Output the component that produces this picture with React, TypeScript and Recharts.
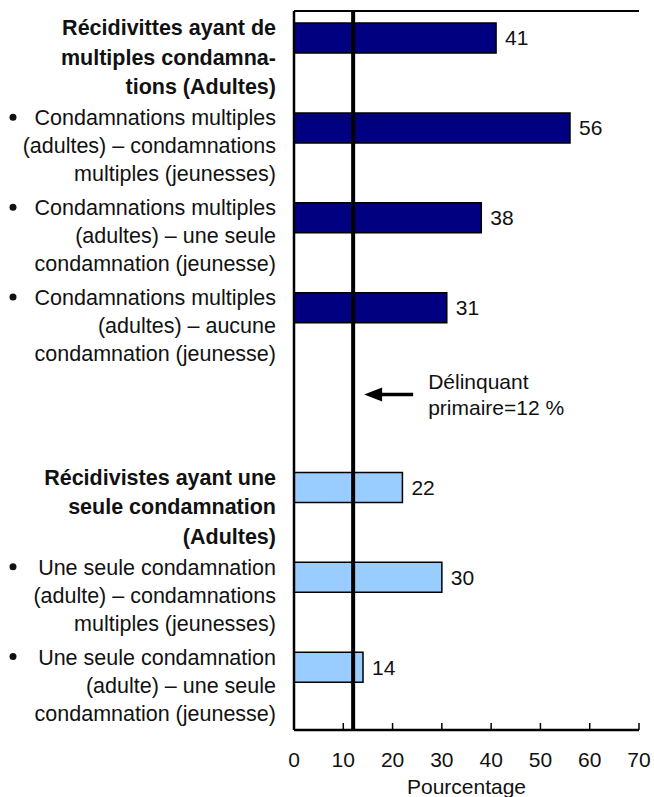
import {
  Bar,
  BarChart,
  Cell,
  LabelList,
  ReferenceDot,
  ReferenceLine,
  XAxis,
  YAxis,
} from "recharts"

const categories = ["multi", "multiMulti", "multiOne", "multiNone", "gap", "single", "singleMulti", "singleOne"]
const values = [41, 56, 38, 31, null, 22, 30, 14]
const groups = ["multi", "multi", "multi", "multi", "none", "single", "single", "single"]
const headers = [true, false, false, false, false, true, false, false]
const labelLines = [
  ["Récidivittes ayant de", "multiples condamna-", "tions (Adultes)"],
  ["Condamnations multiples", "(adultes) – condamnations", "multiples (jeunesses)"],
  ["Condamnations multiples", "(adultes) – une seule", "condamnation (jeunesse)"],
  ["Condamnations multiples", "(adultes) – aucune", "condamnation (jeunesse)"],
  [],
  ["Récidivistes ayant une", "seule condamnation", "(Adultes)"],
  ["Une seule condamnation", "(adulte) – condamnations", "multiples (jeunesses)"],
  ["Une seule condamnation", "(adulte) – une seule", "condamnation (jeunesse)"],
]
const xTicks = [0, 10, 20, 30, 40, 50, 60, 70]
const firstOffender = 12
const noteLines = ["Délinquant", "primaire=12 %"]
const xTitle = "Pourcentage"

const data = categories.map((name, i) => ({ name, value: values[i], group: groups[i] }))

const FONT = "'Liberation Sans', Arial, sans-serif"
const INK = "#111"
const colors: Record<string, string> = { multi: "#000080", single: "#99CCFF", none: "none" }

function CategoryTick({ x, y, payload }: any) {
  const i = categories.indexOf(payload.value)
  const lines = labelLines[i] || []
  if (!lines.length) return null
  const bold = headers[i]
  const lh = bold ? 29.5 : 28
  const base = y - 2.5
  const right = x - 18
  return (
    <g>
      {!bold && <circle cx={x - 281} cy={base - 8} r={3.5} fill={INK} />}
      <text textAnchor="end" fontSize={21.5} fontFamily={FONT} fontWeight={bold ? 700 : 400} fill={INK}>
        {lines.map((l, k) => (
          <tspan key={k} x={right} y={base + k * lh}>
            {l}
          </tspan>
        ))}
      </text>
    </g>
  )
}

function PercentTick({ x, y, payload }: any) {
  return (
    <g>
      <line x1={x} x2={x} y1={y} y2={y - 7} stroke="#000" strokeWidth={1.5} />
      <text x={x} y={y + 36.5} textAnchor="middle" fontSize={21} fontFamily={FONT} fill={INK}>
        {payload.value}
      </text>
    </g>
  )
}

function NoteArrow({ cx, cy }: any) {
  const y = cy - 3
  return (
    <g>
      <line x1={cx + 24} x2={cx + 60} y1={y} y2={y} stroke="#000" strokeWidth={3.5} />
      <polygon points={`${cx + 11},${y} ${cx + 29},${y - 7} ${cx + 29},${y + 7}`} fill="#000" />
      <text fontSize={21} fontFamily={FONT} fill={INK}>
        <tspan x={cx + 75} y={cy - 8.5}>{noteLines[0]}</tspan>
        <tspan x={cx + 75} y={cy + 17.5}>{noteLines[1]}</tspan>
      </text>
    </g>
  )
}

export default function App() {
  return (
    <div style={{ width: 654, height: 797, background: "#fff" }}>
      <style>{"body{margin:0}"}</style>
      <BarChart
        width={654}
        height={797}
        data={data}
        layout="vertical"
        margin={{ top: 10, right: 15, bottom: 0, left: 0 }}
      >
        <XAxis
          type="number"
          domain={[0, 70]}
          ticks={xTicks}
          tickSize={0}
          tickMargin={0}
          tickLine={false}
          tick={<PercentTick />}
          height={67}
          axisLine={{ stroke: "#000", strokeWidth: 2.5 }}
          label={{ value: xTitle, position: "insideBottom", offset: 3, fill: INK, fontSize: 21, fontFamily: FONT }}
        />
        <XAxis
          xAxisId="top"
          orientation="top"
          type="number"
          domain={[0, 70]}
          height={1}
          tick={false}
          tickLine={false}
          axisLine={{ stroke: "#000", strokeWidth: 2 }}
        />
        <YAxis
          type="category"
          dataKey="name"
          width={294}
          tickSize={0}
          tickMargin={0}
          tickLine={false}
          interval={0}
          tick={<CategoryTick />}
          padding={{ top: -18, bottom: 18 }}
          axisLine={{ stroke: "#000", strokeWidth: 2.5 }}
        />
        <YAxis
          yAxisId="right"
          orientation="right"
          type="category"
          dataKey="name"
          width={0}
          tick={false}
          tickLine={false}
          axisLine={{ stroke: "#000", strokeWidth: 2 }}
        />
        <Bar dataKey="value" barSize={30} stroke="#000" strokeWidth={1.5} isAnimationActive={false}>
          {data.map((d) => (
            <Cell key={d.name} fill={colors[d.group]} />
          ))}
          <LabelList dataKey="value" position="right" offset={9} fill={INK} fontSize={21} fontFamily={FONT} />
        </Bar>
        <ReferenceLine x={firstOffender} stroke="#000" strokeWidth={4} />
        <ReferenceDot x={firstOffender} y="gap" r={0} shape={(p: any) => <NoteArrow {...p} />} />
      </BarChart>
    </div>
  )
}
